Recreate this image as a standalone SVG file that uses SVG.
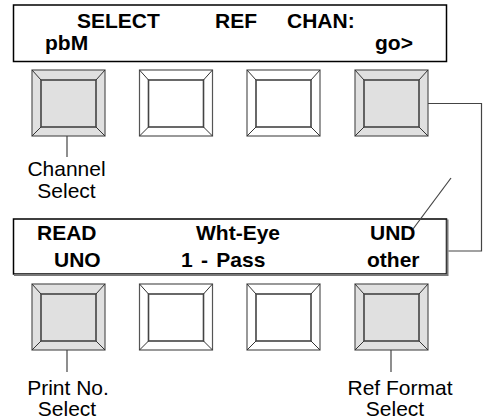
<svg xmlns="http://www.w3.org/2000/svg" width="483" height="420" viewBox="0 0 483 420">
<style>
.disp{fill:#fff;stroke:#000;stroke-width:1.5}
.b{font-family:"Liberation Sans",Arial,sans-serif;font-weight:bold;font-size:21px;fill:#000}
.r{font-family:"Liberation Sans",Arial,sans-serif;font-size:21px;fill:#000;text-anchor:middle}
.outer{stroke:#555;stroke-width:1.2}
.inner{stroke:#444;stroke-width:1.6}
.diag{stroke:#333;stroke-width:1}
.gray{fill:#e0e0e0}
.white{fill:#fff}
.conn{fill:none;stroke:#444;stroke-width:1.2}
.shadow{fill:none;stroke:#777;stroke-width:2}
</style>
<defs>
<g id="btn">
<path class="diag" d="M0,0 L9,10 M73,0 L64,10 M0,66 L9,57 M73,66 L64,57"/>
</g>
</defs>
<g id="display-top">
<rect class="disp" x="13.5" y="5" width="433" height="56.5"/>
<text class="b" x="77" y="27.5">SELECT</text>
<text class="b" x="215" y="27.5">REF</text>
<text class="b" x="287" y="27.5">CHAN:</text>
<text class="b" x="45" y="50">pbM</text>
<text class="b" x="375" y="50">go&gt;</text>
</g>
<g id="btn-top-1">
<rect class="outer gray" x="32" y="70" width="73" height="66"/>
<rect class="inner gray" x="41" y="80" width="55" height="47"/>
<use href="#btn" x="32" y="70"/>
</g>
<g id="btn-top-2">
<rect class="outer white" x="139.5" y="70" width="73" height="66"/>
<rect class="inner white" x="148.5" y="80" width="55" height="47"/>
<use href="#btn" x="139.5" y="70"/>
</g>
<g id="btn-top-3">
<rect class="outer white" x="247" y="70" width="73" height="66"/>
<rect class="inner white" x="256" y="80" width="55" height="47"/>
<use href="#btn" x="247" y="70"/>
</g>
<g id="btn-top-4">
<rect class="outer gray" x="355" y="70" width="73" height="66"/>
<rect class="inner gray" x="364" y="80" width="55" height="47"/>
<use href="#btn" x="355" y="70"/>
</g>
<g id="display-bottom">
<rect class="disp" x="13.5" y="219" width="433" height="55"/>
<path class="shadow" d="M14,275 H447.5 V219.5"/>
<text class="b" x="37" y="240">READ</text>
<text class="b" x="196" y="240">Wht-Eye</text>
<text class="b" x="370" y="240">UND</text>
<text class="b" x="54" y="267">UNO</text>
<text class="b" x="181" y="267" word-spacing="2.5">1 - Pass</text>
<text class="b" x="367" y="267">other</text>
</g>
<g id="btn-bot-1">
<rect class="outer gray" x="32" y="284" width="73" height="66"/>
<rect class="inner gray" x="41" y="294" width="55" height="47"/>
<use href="#btn" x="32" y="284"/>
</g>
<g id="btn-bot-2">
<rect class="outer white" x="139.5" y="284" width="73" height="66"/>
<rect class="inner white" x="148.5" y="294" width="55" height="47"/>
<use href="#btn" x="139.5" y="284"/>
</g>
<g id="btn-bot-3">
<rect class="outer white" x="247" y="284" width="73" height="66"/>
<rect class="inner white" x="256" y="294" width="55" height="47"/>
<use href="#btn" x="247" y="284"/>
</g>
<g id="btn-bot-4">
<rect class="outer gray" x="355" y="284" width="73" height="66"/>
<rect class="inner gray" x="364" y="294" width="55" height="47"/>
<use href="#btn" x="355" y="284"/>
</g>
<g id="labels">
<text class="r" x="66.5" y="176"><tspan x="66.5">Channel</tspan><tspan x="66.5" y="198">Select</tspan></text>
<text class="r" x="68" y="395"><tspan x="68">Print No.</tspan><tspan x="67" y="416">Select</tspan></text>
<text class="r" x="400" y="395"><tspan x="400">Ref Format</tspan><tspan x="395" y="416">Select</tspan></text>
</g>
<g id="connectors">
<path class="conn" d="M67,136 V157"/>
<path class="conn" d="M67,350 V372"/>
<path class="conn" d="M391,350 V372"/>
<path class="conn" d="M428,103.5 H481.5 V251 H448.5"/>
<path class="conn" d="M451,178 L413,229"/>
</g>
</svg>
